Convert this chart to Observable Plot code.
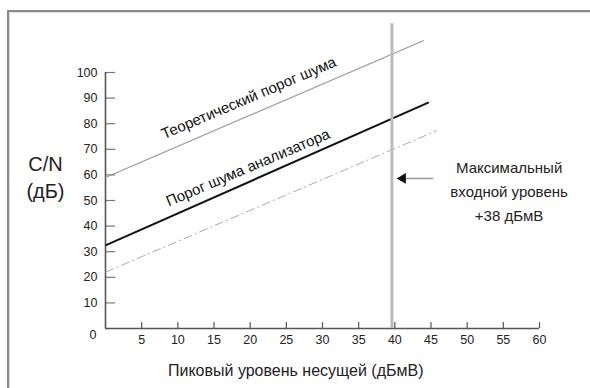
<!DOCTYPE html>
<html><head><meta charset="utf-8">
<script src="https://cdn.jsdelivr.net/npm/d3@7"></script>
<script src="https://cdn.jsdelivr.net/npm/@observablehq/plot@0.6"></script>
<style>
html,body{margin:0;padding:0;background:#fff;overflow:hidden;width:590px;height:388px}
#frame{position:absolute;left:7px;top:10px;width:620px;height:420px;border-top:2.5px solid #8a8a8a;border-left:2.5px solid #8a8a8a;box-shadow:inset 1px 1px 1px #ddd}
#chart{position:absolute;left:0;top:0}
</style></head><body><div id="frame"></div><div id="chart"></div>
<script>
// Series (straight lines)
const seriesNames = ["Теоретический порог шума", "Порог шума анализатора", "Нижняя граница"];
const xStart = [0, 0, 0];
const yStart = [59, 32.5, 22];
const xEnd = [44.0, 44.7, 45.8];
const yEnd = [112.5, 88.3, 77.3];
// Tick labels
const xTicks = [5, 10, 15, 20, 25, 30, 35, 40, 45, 50, 55, 60];
const yTicks = [10, 20, 30, 40, 50, 60, 70, 80, 90, 100];
// Annotations
const maxInputLevel = 39.6;
const maxInputTop = 119;
const annotationText = "Максимальный\nвходной уровень\n+38 дБмВ";
const xTitle = "Пиковый уровень несущей (дБмВ)";
const yTitle = "C/N\n(дБ)";
const labelX = [19.8, 19.7];
const labelY = [90, 62.8];

const lines = seriesNames.map((name, i) => ({name, x1: xStart[i], y1: yStart[i], x2: xEnd[i], y2: yEnd[i]}));
const labels = [0, 1].map(i => ({name: seriesNames[i], x: labelX[i], y: labelY[i]}));
const font = "'Liberation Sans', Arial, sans-serif";

const chart = Plot.plot({
  width: 590, height: 388,
  marginLeft: 105, marginRight: 51, marginTop: 72, marginBottom: 60,
  x: {domain: [0, 60]},
  y: {domain: [0, 100]},
  style: {fontFamily: font, fontSize: "12px", background: "transparent", color: "#222", overflow: "visible"},
  marks: [
    Plot.axisX(xTicks, {tickSize: 0, tickPadding: 7, label: null, fontSize: 12.5, fill: "#222"}),
    Plot.axisY(yTicks, {tickSize: 0, tickPadding: 8, label: null, fontSize: 12.5, fill: "#222"}),
    Plot.text(["0"], {x: 0, y: 0, text: d => d, dx: -9, dy: 6, textAnchor: "end", fontSize: 12.5, fill: "#222"}),
    Plot.ruleX(xTicks, {x: d => d, y1: 0, y2: 2.3, stroke: "#555", strokeWidth: 1.2}),
    Plot.ruleY(yTicks, {y: d => d, x1: 0, x2: 1.4, stroke: "#777", strokeWidth: 1.2}),
    Plot.ruleY([0], {stroke: "#555", strokeWidth: 1.6}),
    Plot.ruleX([0], {stroke: "#555", strokeWidth: 1.6}),
    Plot.link([lines[0]], {x1: "x1", y1: "y1", x2: "x2", y2: "y2", stroke: "#999", strokeWidth: 1.2}),
    Plot.link([lines[1]], {x1: "x1", y1: "y1", x2: "x2", y2: "y2", stroke: "#111", strokeWidth: 2}),
    Plot.link([lines[2]], {x1: "x1", y1: "y1", x2: "x2", y2: "y2", stroke: "#aaa", strokeWidth: 1, strokeDasharray: "9,3,2,3"}),
    Plot.ruleX([maxInputLevel], {x: d => d, y1: 0, y2: maxInputTop, stroke: "#bbb", strokeWidth: 3}),
    Plot.link([0], {x1: 45.3, x2: 41, y1: 58.6, y2: 58.6, stroke: "#999", strokeWidth: 1.5}),
    Plot.dot([0], {x: 41.1, y: 58.6, symbol: "triangle", r: 4, fill: "#111", rotate: -90}),
    Plot.text([annotationText], {x: 55.8, y: 54.3, text: d => d, lineHeight: 1.6, fontSize: 15, fill: "#222"}),
    Plot.text(labels, {x: "x", y: "y", text: "name", rotate: -23, fontSize: 15, fill: "#111"}),
    Plot.text([yTitle], {x: -8.3, y: 59.5, text: d => d, lineHeight: 1.35, fontSize: 20, fill: "#222"}),
    Plot.text([xTitle], {x: 26.3, y: 0, text: d => d, dy: 42, fontSize: 16, fill: "#222"})
  ]
});
document.getElementById("chart").appendChild(chart);
</script>
</body></html>
